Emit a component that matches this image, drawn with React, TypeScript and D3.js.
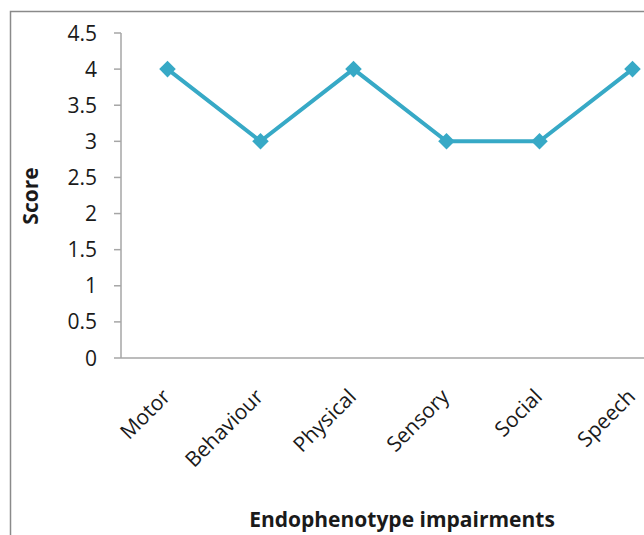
import React, { useEffect, useRef } from "react";
import * as d3 from "d3";

const categories = ["Motor", "Behaviour", "Physical", "Sensory", "Social", "Speech"];
const scores = [4, 3, 4, 3, 3, 4];
const yTicks = [0, 0.5, 1, 1.5, 2, 2.5, 3, 3.5, 4, 4.5];

const App = () => {
  const ref = useRef<SVGSVGElement>(null);

  useEffect(() => {
    const svg = d3.select(ref.current);
    svg.selectAll("*").remove();

    const left = 121;
    const top = 33;
    const bottom = 358;
    const band = 93;
    const font = "'Open Sans', sans-serif";

    // outer frame (cut off on the right like the source)
    svg
      .append("rect")
      .attr("x", 10.5)
      .attr("y", 11.5)
      .attr("width", 800)
      .attr("height", 700)
      .attr("fill", "#fff")
      .attr("stroke", "#8a8a8a")
      .attr("stroke-width", 1.5);

    const x = d3
      .scaleBand()
      .domain(categories)
      .range([left, left + band * categories.length]);
    const y = d3.scaleLinear().domain([0, 4.5]).range([bottom, top]);

    // y axis
    const g = svg.append("g");
    g.append("line")
      .attr("x1", left)
      .attr("x2", left)
      .attr("y1", y(4.5))
      .attr("y2", y(0))
      .attr("stroke", "#a6a6a6")
      .attr("stroke-width", 1.5);
    g.selectAll(".yt")
      .data(yTicks)
      .enter()
      .append("line")
      .attr("x1", left - 7)
      .attr("x2", left)
      .attr("y1", (d) => y(d))
      .attr("y2", (d) => y(d))
      .attr("stroke", "#a6a6a6")
      .attr("stroke-width", 1.5);
    g.selectAll(".yl")
      .data(yTicks)
      .enter()
      .append("text")
      .attr("x", left - 24)
      .attr("y", (d) => y(d))
      .attr("dy", "0.36em")
      .attr("text-anchor", "end")
      .style("font-family", font)
      .style("font-size", "21px")
      .style("fill", "#1a1a1a")
      .text((d) => String(d));

    // x axis
    g.append("line")
      .attr("x1", left)
      .attr("x2", 700)
      .attr("y1", bottom)
      .attr("y2", bottom)
      .attr("stroke", "#a6a6a6")
      .attr("stroke-width", 1.5);

    g.selectAll(".xl")
      .data(categories)
      .enter()
      .append("text")
      .attr(
        "transform",
        (d) => `translate(${(x(d) ?? 0) + x.bandwidth() / 2 + 4},${bottom + 40}) rotate(-45)`
      )
      .attr("text-anchor", "end")
      .style("font-family", font)
      .style("font-size", "21px")
      .style("fill", "#1a1a1a")
      .text((d) => d);

    // titles
    svg
      .append("text")
      .attr("transform", `translate(38,${196}) rotate(-90)`)
      .attr("text-anchor", "middle")
      .style("font-family", font)
      .style("font-size", "21px")
      .style("font-weight", "bold")
      .style("fill", "#1a1a1a")
      .text("Score");

    svg
      .append("text")
      .attr("x", 402)
      .attr("y", 527)
      .attr("text-anchor", "middle")
      .style("font-family", font)
      .style("font-size", "21px")
      .style("font-weight", "bold")
      .style("fill", "#1a1a1a")
      .text("Endophenotype impairments");

    // series
    const cx = (i: number) => (x(categories[i]) ?? 0) + x.bandwidth() / 2;
    const line = d3
      .line<number>()
      .x((_, i) => cx(i))
      .y((d) => y(d));

    svg
      .append("path")
      .datum(scores)
      .attr("d", line)
      .attr("fill", "none")
      .attr("stroke", "#37a9c6")
      .attr("stroke-width", 4);

    svg
      .selectAll(".pt")
      .data(scores)
      .enter()
      .append("path")
      .attr("d", d3.symbol().type(d3.symbolDiamond2).size(175)())
      .attr("transform", (d, i) => `translate(${cx(i)},${y(d)})`)
      .attr("fill", "#37a9c6");
  }, []);

  return (
    <svg
      ref={ref}
      width={644}
      height={535}
      style={{ position: "absolute", left: 0, top: 0, background: "#fff" }}
    />
  );
};

export default App;
